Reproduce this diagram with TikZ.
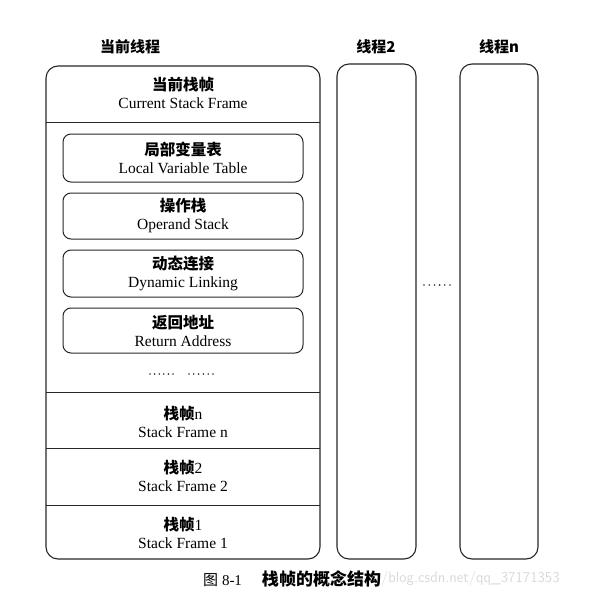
\documentclass[tikz,border=0pt]{standalone}
\usepackage{fontspec}
\setmainfont{Liberation Serif}
\newfontfamily\cjk{Noto Sans CJK SC}
\begin{document}
\begin{tikzpicture}[x=1pt,y=-1pt,
  every node/.style={inner sep=0pt,outer sep=0pt},
  frame/.style={draw=black!85,line width=1.1pt,rounded corners=12pt},
  inner/.style={draw=black!85,line width=1pt,rounded corners=8pt,minimum width=240pt},
  lbl/.style={align=center,font=\fontsize{15.5}{18}\selectfont},
  title/.style={font=\cjk\bfseries\fontsize{15}{16}\selectfont},
  sep/.style={draw=black!85,line width=1pt},
  dot/.style={fill=black!80}]
\useasboundingbox (0,0) rectangle (601,599);
% titles
\node[title] (t1) at (130,47) {当前线程};
\node[title] (t2) at (376,47) {线程2};
\node[title] (tn) at (499,47) {线程n};
% main thread frame
\node[frame,minimum width=274pt,minimum height=493pt] (main) at (183,312.5) {};
\coordinate (h1l) at (46,122); \coordinate (h1r) at (320,122);
\coordinate (h2l) at (46,392); \coordinate (h2r) at (320,392);
\coordinate (h3l) at (46,448); \coordinate (h3r) at (320,448);
\coordinate (h4l) at (46,505); \coordinate (h4r) at (320,505);
\draw[sep] (h1l) -- (h1r);
\draw[sep] (h2l) -- (h2r);
\draw[sep] (h3l) -- (h3r);
\draw[sep] (h4l) -- (h4r);
\node[lbl] (cur) at (183,93) {{\cjk\bfseries 当前栈帧}\\Current Stack Frame};
% inner boxes
\node[inner,minimum height=48pt,lbl] (lvt) at (183,158) {{\cjk\bfseries 局部变量表}\\Local Variable Table};
\node[inner,minimum height=46pt,lbl] (ops) at (183,216) {{\cjk\bfseries 操作栈}\\Operand Stack};
\node[inner,minimum height=47pt,lbl] (dyn) at (183,273.5) {{\cjk\bfseries 动态连接}\\Dynamic Linking};
\node[inner,minimum height=45pt,lbl] (ret) at (183,330.5) {{\cjk\bfseries 返回地址}\\Return Address};
\foreach \i in {0,...,5} {
  \fill[dot] (150+4.6*\i,374) circle (0.9pt);
  \fill[dot] (189+4.8*\i,374) circle (0.9pt);
  \fill[dot] (424+5.2*\i,285) circle (0.9pt);
}
% stack frames
\node[lbl] (sfn) at (183,422) {{\cjk\bfseries 栈帧}n\\Stack Frame n};
\node[lbl] (sf2) at (183,476) {{\cjk\bfseries 栈帧}2\\Stack Frame 2};
\node[lbl] (sf1) at (183,533) {{\cjk\bfseries 栈帧}1\\Stack Frame 1};
% other threads
\node[frame,minimum width=79pt,minimum height=495pt] (th2) at (376.5,311.5) {};
\node[frame,minimum width=78pt,minimum height=495pt] (thn) at (499,311.5) {};
% caption
\node[anchor=west,font=\fontsize{15}{16}\selectfont] (cap) at (203,579) {{\cjk 图}\hspace{4pt}8-1\hspace{20pt}{\cjk\bfseries\fontsize{17}{18}\selectfont 栈帧的概念结构}};
\node[anchor=west,text=black!15,font=\fontsize{15}{16}\selectfont] (wm) at (cap.east) {\sffamily /blog.csdn.net/qq\_37171353};
\end{tikzpicture}
\end{document}
